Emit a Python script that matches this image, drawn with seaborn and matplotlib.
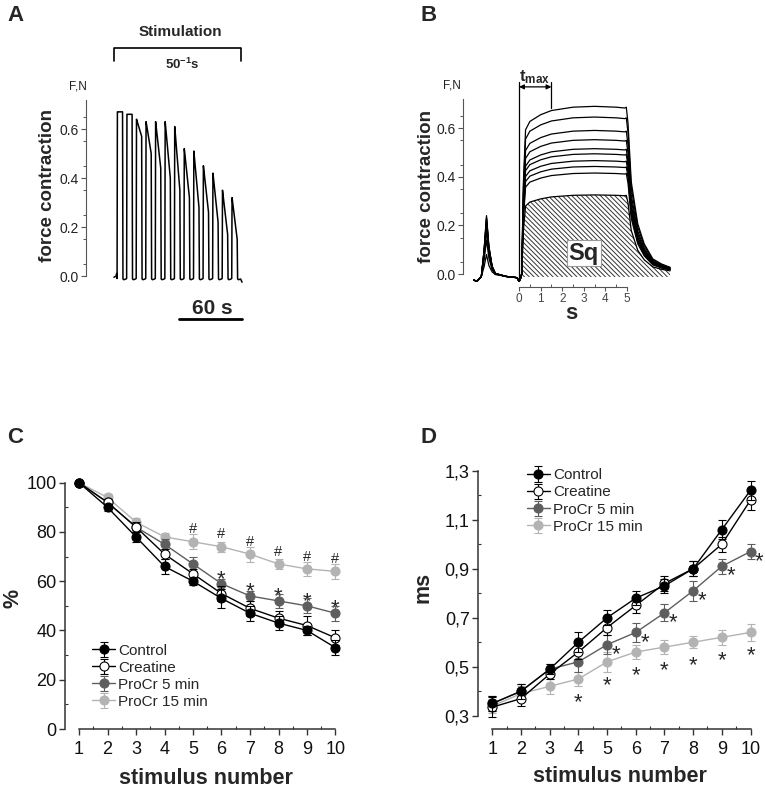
import numpy as np
import pandas as pd
import matplotlib
matplotlib.use('Agg')
import matplotlib.pyplot as plt
import seaborn as sns

sns.set_theme(style='ticks')
plt.rcParams['font.family'] = ['Liberation Sans', 'DejaVu Sans']
plt.rcParams['mathtext.fontset'] = 'custom'
plt.rcParams['mathtext.rm'] = 'Liberation Sans'
plt.rcParams['mathtext.bf'] = 'Liberation Sans:bold'
plt.rcParams['hatch.linewidth'] = 0.7
plt.rcParams['hatch.color'] = '#333333'

# ====================
#  DATA
# ====================

# panel A: 13 contractions during stimulation (peak and end-of-pulse force, N)
a_peaks = [0.67, 0.66, 0.64, 0.63, 0.63, 0.63, 0.61, 0.52, 0.51, 0.45, 0.42, 0.35, 0.32]
a_ends = [0.67, 0.66, 0.57, 0.50, 0.44, 0.40, 0.35, 0.32, 0.28, 0.26, 0.22, 0.17, 0.15]
a_first = 2.0     # s, first pulse
a_period = 9.1    # s
a_on = 5.6        # s

# panel B: superimposed contractions (plateau force, N), last one hatched
b_plateau = [0.689, 0.645, 0.590, 0.552, 0.515, 0.494, 0.466, 0.442, 0.415, 0.325]
b_spike = [0.25, 0.24, 0.24, 0.23, 0.22, 0.21, 0.19, 0.15, 0.09, 0.20]
b_pre_t = [-2.1, -1.95, -1.75, -1.62, -1.51, -1.4, -1.25, -1.1, -0.6, -0.1, 0.0, 0.06]
b_pre_base = [-0.025, -0.03, -0.01, -0.01, -0.01, -0.01, -0.005, -0.005, -0.01, -0.015, -0.03, -0.02]
b_pre_frac = [0, 0, 0, 0.45, 1, 0.5, 0.15, 0.03, 0, 0, 0, 0]
b_rise_t = [0.12, 0.2, 0.3, 0.5, 1.0, 1.5, 2.5, 3.5, 4.5, 4.9, 4.97]
b_rise_f = [0.0, 0.55, 0.86, 0.91, 0.95, 0.975, 0.995, 1.0, 0.995, 0.99, 0.995]
b_fall_t = [5.05, 5.2, 5.5, 5.8, 6.2, 6.6, 7.0]
b_fall_f = [0.9, 0.55, 0.3, 0.18, 0.09, 0.06, 0.04]
t_max = 1.5

# panels C and D
stim = list(range(1, 11))
labels = ['Control', 'Creatine', 'ProCr 5 min', 'ProCr 15 min']

c_control = [100, 90, 78, 66, 60, 53, 47, 43, 40, 33]
c_creatine = [100, 92, 82, 71, 63, 55, 49, 45, 42, 37]
c_procr5 = [100, 92, 82, 75, 67, 59, 54, 52, 50, 47]
c_procr15 = [100, 94, 84, 78, 76, 74, 71, 67, 65, 64]
c_control_err = [0, 1.5, 2, 3, 1.5, 4, 3, 3, 2, 3]
c_creatine_err = [0, 1.5, 2, 2, 2, 3, 3, 3, 4, 3]
c_procr5_err = [0, 1.5, 1.5, 2, 3, 2, 2, 3, 3, 3]
c_procr15_err = [0, 1.5, 1.5, 1.5, 3, 2, 3, 2, 3, 3]
c_star = [6, 7, 8, 9, 10]      # * over ProCr 5 min
c_hash = [5, 6, 7, 8, 9, 10]   # # over ProCr 15 min

d_control = [0.35, 0.40, 0.49, 0.60, 0.70, 0.78, 0.83, 0.90, 1.06, 1.22]
d_creatine = [0.335, 0.37, 0.47, 0.56, 0.66, 0.75, 0.84, 0.90, 1.00, 1.18]
d_procr5 = [0.35, 0.40, 0.49, 0.52, 0.59, 0.64, 0.72, 0.81, 0.91, 0.97]
d_procr15 = [0.34, 0.39, 0.42, 0.45, 0.52, 0.56, 0.58, 0.60, 0.62, 0.64]
d_control_err = [0.03, 0.03, 0.02, 0.04, 0.03, 0.03, 0.03, 0.03, 0.04, 0.04]
d_creatine_err = [0.04, 0.03, 0.02, 0.03, 0.03, 0.03, 0.03, 0.03, 0.03, 0.04]
d_procr5_err = [0.03, 0.03, 0.02, 0.04, 0.04, 0.04, 0.035, 0.04, 0.03, 0.03]
d_procr15_err = [0.03, 0.03, 0.03, 0.03, 0.04, 0.03, 0.03, 0.025, 0.03, 0.035]
d_star5 = [5, 6, 7, 8, 9, 10]
d_star15 = [4, 5, 6, 7, 8, 9, 10]

W, H = 765, 788
PRO5 = '#5e5e5e'
PRO15 = '#b3b3b3'


def px_rect(left, top, right, bottom):
    return [left / W, 1 - bottom / H, (right - left) / W, (bottom - top) / H]


# ====================
#  PANEL A
# ====================

def a_trace():
    t = [-1.0, 1.0, 1.6]
    f = [-0.005, 0.0, 0.01]
    for i, (pk, en) in enumerate(zip(a_peaks, a_ends)):
        t0 = a_first + i * a_period
        t += [t0, t0 + 0.3, t0 + 0.9, t0 + a_on - 0.4, t0 + a_on,
              t0 + a_on + 0.9, t0 + a_period - 0.7]
        f += [-0.01, pk, pk - 0.12 * (pk - en), en, -0.012, -0.015, -0.012]
    t += [120.0, 121.0]
    f += [-0.015, -0.025]
    return pd.DataFrame({'t': t, 'force': f})


def force_axis(ax):
    sns.despine(ax=ax)
    ax.spines['left'].set_bounds(0, 0.72)
    ax.spines['left'].set_color('#555555')
    ax.spines['left'].set_linewidth(0.8)
    ax.set_yticks([0, 0.2, 0.4, 0.6])
    ax.set_yticklabels(['0.0', '0.2', '0.4', '0.6'])
    ax.set_yticks(np.arange(0.05, 0.75, 0.1), minor=True)
    ax.tick_params(axis='y', which='major', length=3.5, width=0.8, color='#555555',
                   labelsize=10, labelcolor='#222222', pad=1.5)
    ax.tick_params(axis='y', which='minor', length=2, width=0.7, color='#555555')
    ax.set_ylabel('force contraction', fontsize=13.5, fontweight='bold')
    ax.text(-0.05, 1.07, 'F,N', transform=ax.transAxes, ha='center', va='center',
            fontsize=8.5, color='#222222')


def panel_a(fig):
    ax = fig.add_axes(px_rect(86, 99.6, 250, 283.4))
    sns.lineplot(data=a_trace(), x='t', y='force', estimator=None, sort=False,
                 color='black', lw=1.1, ax=ax)
    ax.set_xlim(-27.6, 128.6)
    ax.set_ylim(-0.03, 0.72)
    force_axis(ax)
    ax.spines['bottom'].set_visible(False)
    ax.set_xticks([])
    ax.set_xlabel('')
    ax.yaxis.set_label_coords(-0.183, 0.53)

    # stimulation bracket
    ax.plot([-0.6, -0.6, 120, 120], [0.878, 0.929, 0.929, 0.878], color='black',
            lw=1.2, clip_on=False)
    ax.text(62.8, 0.994, 'Stimulation', ha='center', va='center', fontsize=11,
            fontweight='bold')
    ax.text(63.8, 0.862, r'$\mathbf{50^{-1}s}$', ha='center', va='center', fontsize=9.5)

    # 60 s scale bar
    ax.plot([60.7, 120.7], [-0.176, -0.176], color='black', lw=2, clip_on=False)
    ax.text(92.6, -0.131, '60 s', ha='center', va='center', fontsize=15,
            fontweight='bold')


# ====================
#  PANEL B
# ====================

def b_curve(p, h):
    t = list(b_pre_t) + list(b_rise_t) + list(b_fall_t)
    f = [b + h * s for b, s in zip(b_pre_base, b_pre_frac)]
    f += [p * s for s in b_rise_f]
    f += [p * s for s in b_fall_f]
    return pd.DataFrame({'t': t, 'force': f})


def panel_b(fig):
    ax = fig.add_axes(px_rect(463, 98.8, 680, 287.4))
    for p, h in zip(b_plateau, b_spike):
        sns.lineplot(data=b_curve(p, h), x='t', y='force', estimator=None,
                     sort=False, color='black', lw=0.9, ax=ax)
    low = b_curve(b_plateau[-1], b_spike[-1])
    low = low[low['t'] >= 0.12]
    ax.fill_between(low['t'], low['force'], -0.012, facecolor='white',
                    edgecolor='#333333', hatch='\\\\\\\\\\\\\\', lw=0, zorder=0)
    ax.set_xlim(-2.6, 7.46)
    ax.set_ylim(-0.055, 0.72)
    force_axis(ax)
    ax.yaxis.set_label_coords(-0.129, 0.535)

    ax.spines['bottom'].set_bounds(0, 5)
    ax.spines['bottom'].set_color('#555555')
    ax.spines['bottom'].set_linewidth(0.8)
    ax.set_xticks(range(6))
    ax.set_xticks(np.arange(0.5, 5, 1), minor=True)
    ax.tick_params(axis='x', which='major', length=3, width=0.8, color='#555555',
                   labelsize=8.5, labelcolor='#444444', pad=1)
    ax.tick_params(axis='x', which='minor', length=2, width=0.7, color='#555555',
                   direction='in')
    ax.set_xlabel('s', fontsize=16, fontweight='bold')
    ax.xaxis.set_label_coords(0.5, -0.085)

    # t max marker
    ax.plot([0, 0], [-0.03, 0.789], color='black', lw=0.9, clip_on=False)
    ax.plot([t_max, t_max], [b_plateau[0] - 0.005, 0.789], color='black', lw=0.9,
            clip_on=False)
    ax.annotate('', xy=(0, 0.769), xytext=(t_max, 0.769),
                arrowprops=dict(arrowstyle='<|-|>', color='black', lw=0.9,
                                mutation_scale=7, shrinkA=0, shrinkB=0),
                annotation_clip=False)
    ax.text(0.73, 0.81, r'$\mathbf{t_{max}}$', ha='center', va='center', fontsize=12)
    ax.text(3.0, 0.086, 'Sq', ha='center', va='center', fontsize=17, fontweight='bold',
            bbox=dict(boxstyle='square,pad=0.08', facecolor='white',
                      edgecolor='#999999', lw=0.8))


# ====================
#  PANELS C, D
# ====================

def style_lines():
    return [dict(color='black', mfc='black', mec='black', ecolor='black'),
            dict(color='black', mfc='white', mec='black', ecolor='black'),
            dict(color=PRO5, mfc=PRO5, mec=PRO5, ecolor=PRO5),
            dict(color=PRO15, mfc=PRO15, mec=PRO15, ecolor=PRO15)]


def summary_axis(ax, series, errors):
    handles = []
    for k in [3, 2, 1, 0]:
        st = style_lines()[k]
        h = ax.errorbar(stim, series[k], yerr=errors[k], marker='o', ms=6.5, mew=0.8,
                        lw=1.0, elinewidth=0.8, capsize=3, capthick=0.8,
                        zorder=3 + (3 - k), clip_on=False, label=labels[k], **st)
        handles.append(h)
    handles = handles[::-1]
    sns.despine(ax=ax)
    for side in ['left', 'bottom']:
        ax.spines[side].set_linewidth(1.1)
        ax.spines[side].set_color('#333333')
    ax.spines['bottom'].set_bounds(1, 10)
    ax.set_xlim(0.5, 10.4)
    ax.set_xticks(stim)
    ax.set_xticks(np.arange(1.5, 10, 1), minor=True)
    ax.tick_params(which='major', length=4.5, width=1.0, color='#333333',
                   labelsize=13, labelcolor='#111111')
    ax.tick_params(which='minor', length=2, width=0.8, color='#333333', direction='in')
    ax.tick_params(axis='y', pad=1.5)
    ax.tick_params(axis='x', pad=4)
    ax.set_xlabel('stimulus number', fontsize=15.5, fontweight='bold')
    return handles


def add_legend(ax, handles, anchor):
    ax.legend(handles=handles, labels=labels, loc='upper left', bbox_to_anchor=anchor,
              frameon=False, fontsize=11, borderpad=0, borderaxespad=0,
              handlelength=1.5, handletextpad=0.2, labelspacing=0.2)


def panel_c(fig):
    ax = fig.add_axes(px_rect(64.75, 475.3, 346.9, 729))
    series = [c_control, c_creatine, c_procr5, c_procr15]
    errors = [c_control_err, c_creatine_err, c_procr5_err, c_procr15_err]
    handles = summary_axis(ax, series, errors)
    ax.set_ylim(0, 103)
    ax.spines['left'].set_bounds(0, 100)
    ax.set_yticks(range(0, 101, 20))
    ax.set_yticks(range(10, 100, 20), minor=True)
    ax.set_ylabel('%', fontsize=15.5, fontweight='bold')
    ax.yaxis.set_label_coords(-0.1445, 0.516)
    ax.xaxis.set_label_coords(0.5, -0.154)
    for x in c_star:
        ax.annotate('*', (x, c_procr5[x - 1]), xytext=(0, -1), textcoords='offset points',
                    ha='center', va='baseline', fontsize=16)
    for x in c_hash:
        ax.annotate('#', (x, c_procr15[x - 1]), xytext=(0, 6), textcoords='offset points',
                    ha='center', va='baseline', fontsize=10.5)
    add_legend(ax, handles, (0.097, 0.337))


def panel_d(fig):
    ax = fig.add_axes(px_rect(478, 465.8, 762, 729.2))
    series = [d_control, d_creatine, d_procr5, d_procr15]
    errors = [d_control_err, d_creatine_err, d_procr5_err, d_procr15_err]
    handles = summary_axis(ax, series, errors)
    ax.set_ylim(0.245, 1.32)
    ax.spines['left'].set_bounds(0.3, 1.3)
    ticks = [0.3, 0.5, 0.7, 0.9, 1.1, 1.3]
    ax.set_yticks(ticks)
    ax.set_yticklabels([f'{v:.1f}'.replace('.', ',') for v in ticks])
    ax.set_yticks([0.4, 0.6, 0.8, 1.0, 1.2], minor=True)
    ax.set_ylabel('ms', fontsize=15.5, fontweight='bold')
    ax.yaxis.set_label_coords(-0.158, 0.54)
    ax.xaxis.set_label_coords(0.5, -0.14)
    for x in d_star5:
        ax.annotate('*', (x, d_procr5[x - 1]), xytext=(6.3, -11),
                    textcoords='offset points', ha='center', va='baseline', fontsize=16)
    for x in d_star15:
        ax.annotate('*', (x, d_procr15[x - 1]), xytext=(0, -20.8),
                    textcoords='offset points', ha='center', va='baseline', fontsize=16)
    add_legend(ax, handles, (0.1725, 0.99))


# ====================
#  MAIN FUNCTION
# ====================

def main():
    fig = plt.figure(figsize=(W / 100, H / 100), dpi=100)
    panel_a(fig)
    panel_b(fig)
    panel_c(fig)
    panel_d(fig)
    for letter, x, y in [('A', 7, 21), ('B', 420, 21), ('C', 7, 443), ('D', 420, 443)]:
        fig.text(x / W, 1 - y / H, letter, fontsize=16, fontweight='bold', va='baseline')
    fig.savefig('out.png', dpi=100)
    plt.close(fig)


if __name__ == "__main__":
    main()
